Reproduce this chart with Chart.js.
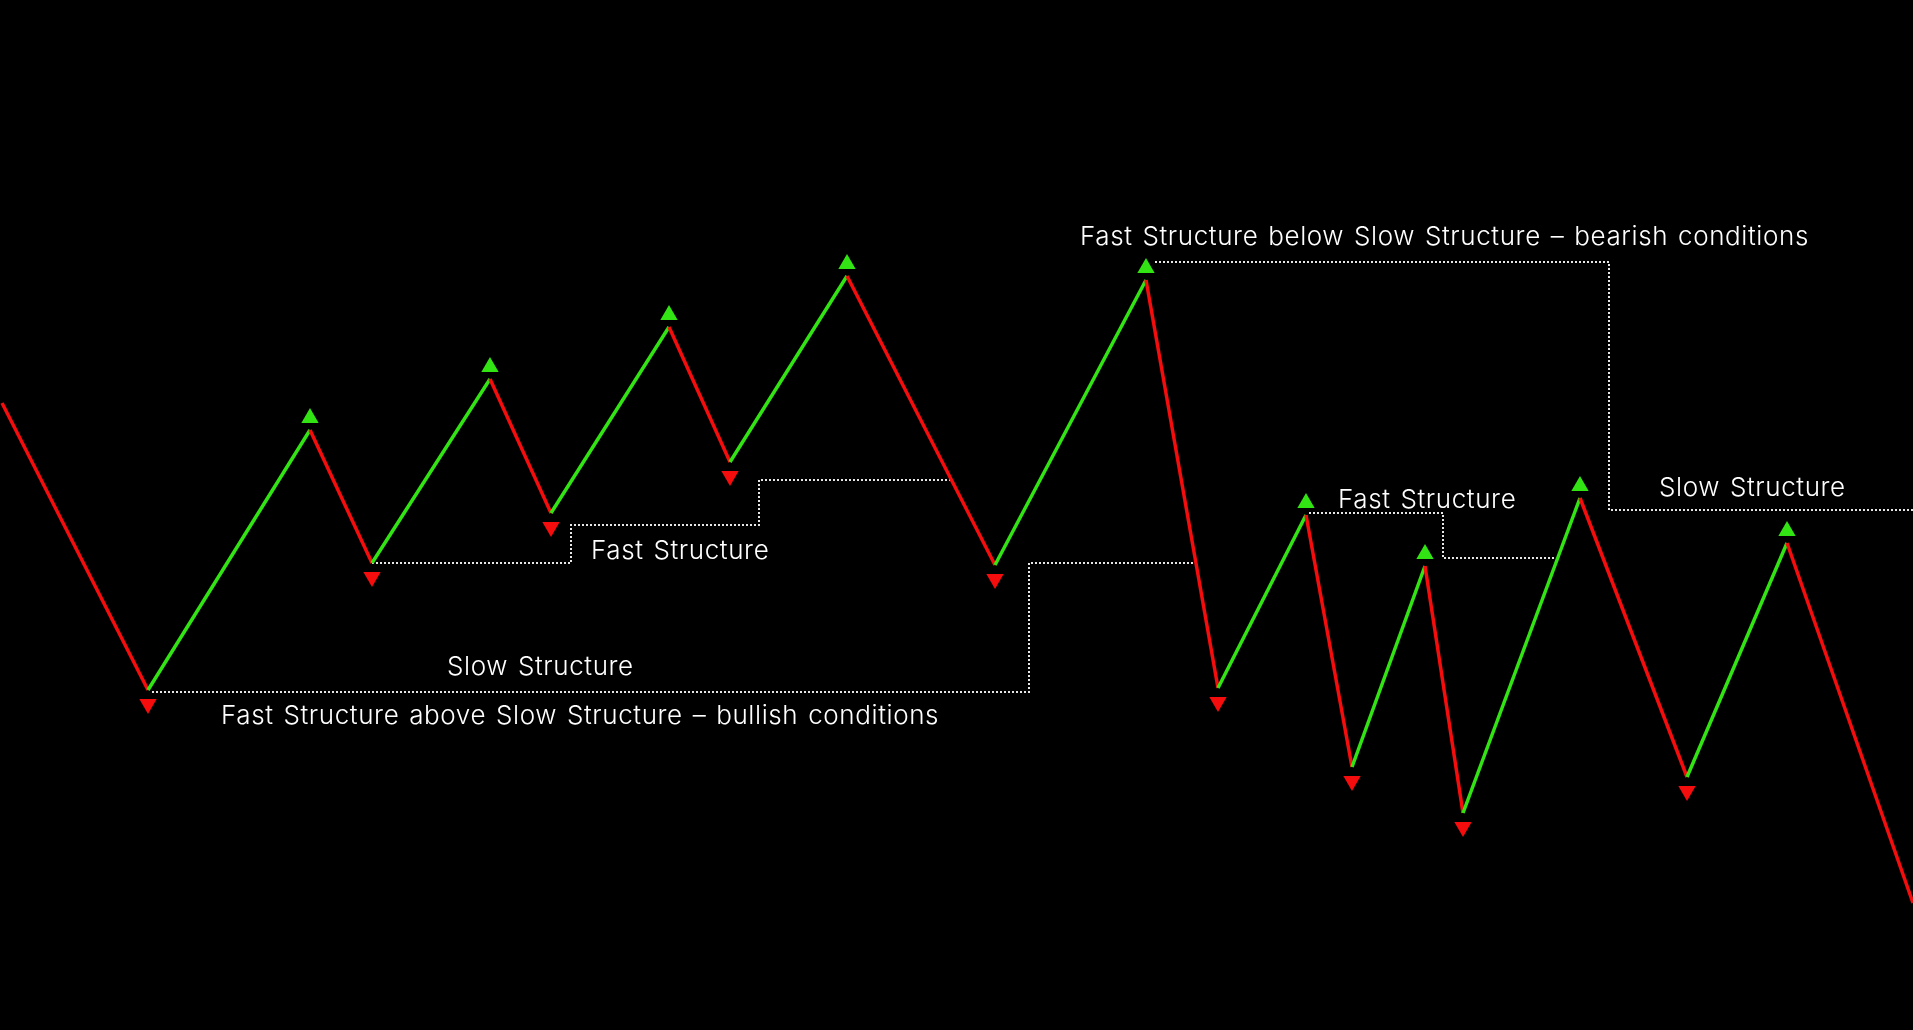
<!DOCTYPE html>
<html>
<head>
<meta charset="utf-8">
<script src="https://cdn.jsdelivr.net/npm/chart.js@4.4.1/dist/chart.umd.min.js"></script>
<style>
  html, body { margin: 0; padding: 0; background: #000; overflow: hidden; }
  canvas { display: block; }
</style>
</head>
<body>
<canvas id="structureChart" width="1913" height="1030"></canvas>
<script>
// swing points of the zigzag (x = bar position, y = price)
const swingX = [2, 148, 310, 372, 490, 551, 669, 730, 847, 995, 1146, 1218, 1306, 1352, 1425, 1463, 1580, 1687, 1787, 1913];
const swingY = [62.7, 34.0, 60.0, 46.7, 65.1, 51.7, 70.3, 56.8, 75.4, 46.5, 75.0, 34.2, 51.5, 26.3, 46.4, 21.7, 53.2, 25.3, 48.7, 12.7];

// structure levels (stepped)
const fastBullX = [372, 571, 759, 951];
const fastBullY = [46.7, 50.5, 55.0, 55.0];
const slowBullX = [152, 1029, 1194];
const slowBullY = [33.8, 46.7, 46.7];
const fastBearX = [1309, 1443, 1555];
const fastBearY = [51.7, 47.2, 47.2];
const slowBearX = [1155, 1609, 1913];
const slowBearY = [76.8, 52.0, 52.0];

// text labels
const labelText = [
  'Fast Structure below Slow Structure \u2013 bearish conditions',
  'Slow Structure',
  'Fast Structure',
  'Fast Structure',
  'Slow Structure',
  'Fast Structure above Slow Structure \u2013 bullish conditions'
];
const labelX = [1080, 1659, 1338, 591, 447, 221];
const labelY = [79.3, 54.2, 53.0, 47.9, 36.3, 31.4];

const GREEN = '#33e414';
const RED = '#f50c0c';
const DOT = '#e6e6e6';

const toPoints = (xs, ys) => xs.map((x, i) => ({ x: x, y: ys[i] }));

const dotted = (xs, ys) => ({
  data: toPoints(xs, ys),
  stepped: 'before',
  borderColor: DOT,
  borderWidth: 2,
  borderDash: [2, 2],
  pointRadius: 0,
  fill: false
});

// triangles above highs and below lows
const swingMarkers = {
  id: 'swingMarkers',
  afterDatasetsDraw(chart) {
    const ctx = chart.ctx;
    const xs = chart.scales.x;
    const ys = chart.scales.y;
    const r = 10;
    ctx.save();
    for (let i = 1; i < swingY.length - 1; i++) {
      const px = xs.getPixelForValue(swingX[i]);
      const py = ys.getPixelForValue(swingY[i]);
      const isHigh = swingY[i] > swingY[i - 1];
      ctx.beginPath();
      if (isHigh) {
        const cy = py - 12;
        ctx.moveTo(px, cy - r);
        ctx.lineTo(px + r * 0.866, cy + r / 2);
        ctx.lineTo(px - r * 0.866, cy + r / 2);
        ctx.fillStyle = GREEN;
      } else {
        const cy = py + 14;
        ctx.moveTo(px, cy + r);
        ctx.lineTo(px + r * 0.866, cy - r / 2);
        ctx.lineTo(px - r * 0.866, cy - r / 2);
        ctx.fillStyle = RED;
      }
      ctx.closePath();
      ctx.fill();
    }
    ctx.restore();
  }
};

const textLabels = {
  id: 'textLabels',
  afterDraw(chart) {
    const ctx = chart.ctx;
    ctx.save();
    ctx.font = '300 26px Inter';
    ctx.letterSpacing = '0.6px';
    ctx.wordSpacing = '2px';
    ctx.fillStyle = '#ffffff';
    ctx.textAlign = 'left';
    ctx.textBaseline = 'middle';
    labelText.forEach((t, i) => {
      ctx.fillText(t, chart.scales.x.getPixelForValue(labelX[i]), chart.scales.y.getPixelForValue(labelY[i]));
    });
    ctx.restore();
  }
};

const blackBg = {
  id: 'blackBg',
  beforeDraw(chart) {
    const ctx = chart.ctx;
    ctx.save();
    ctx.fillStyle = '#000';
    ctx.fillRect(0, 0, chart.width, chart.height);
    ctx.restore();
  }
};

const ctx = document.getElementById('structureChart').getContext('2d');

const chart = new Chart(ctx, {
  type: 'line',
  data: {
    datasets: [
      {
        data: toPoints(swingX, swingY),
        borderWidth: 3.5,
        pointRadius: 0,
        fill: false,
        segment: {
          borderColor: c => c.p1.parsed.y > c.p0.parsed.y ? GREEN : RED
        }
      },
      dotted(fastBullX, fastBullY),
      dotted(slowBullX, slowBullY),
      dotted(fastBearX, fastBearY),
      dotted(slowBearX, slowBearY)
    ]
  },
  options: {
    responsive: false,
    animation: false,
    layout: { padding: 0 },
    scales: {
      x: { type: 'linear', min: 0, max: 1913, display: false },
      y: { type: 'linear', min: 0, max: 103, display: false }
    },
    plugins: {
      legend: { display: false },
      tooltip: { enabled: false }
    }
  },
  plugins: [blackBg, swingMarkers, textLabels]
});
</script>
</body>
</html>
